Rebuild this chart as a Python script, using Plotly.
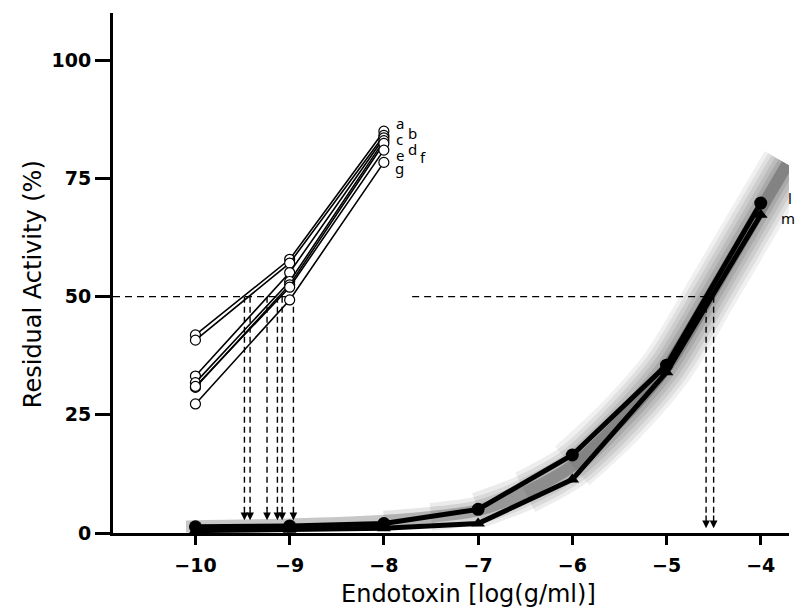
import plotly.graph_objects as go

# ---------------- data ----------------
x_short = [-10, -9, -8]
curves_short = {
    "a": [41.9, 57.9, 85.0],
    "b": [40.8, 57.1, 84.1],
    "c": [33.2, 55.1, 83.6],
    "d": [31.8, 53.2, 83.0],
    "e": [30.8, 52.5, 82.4],
    "f": [31.0, 52.0, 81.0],
    "g": [27.3, 49.3, 78.4],
}
x_long = [-10, -9, -8, -7, -6, -5, -4]
curve_l = [1.3, 1.5, 2.0, 5.0, 16.5, 35.5, 69.8]
curve_m = [0.5, 0.7, 1.0, 2.0, 11.3, 34.0, 67.3]

# centre line of the shaded (halftone) band around curves l and m
band_x = [-10.1, -9, -8, -7.5, -7, -6.5, -6, -5.5, -5, -4.5, -4, -3.72]
band_y = [1.4, 1.8, 2.6, 3.4, 4.8, 8.6, 14.2, 23.5, 35.0, 51.5, 68.5, 78.0]

# 50 % crossings marked with dashed arrows
ic50_left = [-9.48, -9.42, -9.24, -9.13, -9.08, -8.96]
ic50_right = [-4.58, -4.50]
half_level = 50

x_ticks = [-10, -9, -8, -7, -6, -5, -4]
y_ticks = [0, 25, 50, 75, 100]

X_MIN, X_MAX = -10.875, -3.70
Y_MIN, Y_MAX = 0, 110

fig = go.Figure()

# ---------------- shaded band (layered translucent strokes) ----------------
band_layers = [  # (first point index, width px, alpha)
    (0, 12, 0.22),
    (2, 20, 0.10),
    (3, 28, 0.08),
    (4, 36, 0.08),
    (5, 44, 0.07),
    (6, 52, 0.06),
]
for start, w, a in band_layers:
    fig.add_trace(go.Scatter(
        x=band_x[start:], y=band_y[start:], mode="lines",
        line=dict(color=f"rgba(0,0,0,{a})", width=w, shape="spline", smoothing=0.8),
        hoverinfo="skip", showlegend=False))

# ---------------- dashed 50 % guide lines ----------------
dash_style = dict(color="black", width=1.4, dash="7px,5px")
fig.add_trace(go.Scatter(x=[X_MIN, max(ic50_left)], y=[half_level, half_level],
                         mode="lines", line=dash_style, showlegend=False, hoverinfo="skip"))
fig.add_trace(go.Scatter(x=[-7.7, max(ic50_right)], y=[half_level, half_level],
                         mode="lines", line=dash_style, showlegend=False, hoverinfo="skip"))

arrow_end_left = 2.7
arrow_end_right = 1.0
for xs, yend in ((ic50_left, arrow_end_left), (ic50_right, arrow_end_right)):
    for xv in xs:
        fig.add_trace(go.Scatter(x=[xv, xv], y=[half_level, yend + 2.5], mode="lines",
                                 line=dict(color="black", width=1.4, dash="6px,4px"),
                                 showlegend=False, hoverinfo="skip"))
        fig.add_annotation(x=xv, y=yend, ax=xv, ay=yend + 3.0, xref="x", yref="y",
                           axref="x", ayref="y", text="", showarrow=True,
                           arrowhead=2, arrowsize=1.1, arrowwidth=1.4, arrowcolor="black")

# ---------------- curves a-g ----------------
for name, ys in curves_short.items():
    fig.add_trace(go.Scatter(
        x=x_short, y=ys, mode="lines+markers", name=name,
        line=dict(color="black", width=1.6),
        marker=dict(symbol="circle", size=10, color="white",
                    line=dict(color="black", width=1.2)),
        cliponaxis=False, showlegend=False))

# ---------------- curves l and m ----------------
fig.add_trace(go.Scatter(
    x=x_long, y=curve_m, mode="lines+markers", name="m",
    line=dict(color="black", width=5),
    marker=dict(symbol="triangle-up", size=12, color="black"),
    cliponaxis=False, showlegend=False))
fig.add_trace(go.Scatter(
    x=x_long, y=curve_l, mode="lines+markers", name="l",
    line=dict(color="black", width=5),
    marker=dict(symbol="circle", size=13, color="black"),
    cliponaxis=False, showlegend=False))

# ---------------- curve labels ----------------
label_font = dict(family="Noto Sans, DejaVu Sans, sans-serif", size=15, color="black")
label_pos = {  # (x, y) of each letter, data units
    "a": (-7.83, 86.8), "b": (-7.70, 84.7), "c": (-7.83, 83.3), "d": (-7.70, 81.3),
    "e": (-7.83, 80.0), "f": (-7.59, 79.6), "g": (-7.83, 77.2),
}
for t, (lx, ly) in label_pos.items():
    fig.add_annotation(x=lx, y=ly, xref="x", yref="y", text=t, showarrow=False,
                       font=label_font, xanchor="center", yanchor="middle",
                       borderpad=0)
# l and m sit just right of the plotting range: x in paper units
for t, (lx, ly) in {"l": (1.001, 70.8), "m": (0.999, 66.6)}.items():
    fig.add_annotation(x=lx, y=ly, xref="paper", yref="y", text=t, showarrow=False,
                       font=label_font, xanchor="center", yanchor="middle",
                       borderpad=0)

# ---------------- axis titles ----------------
title_font = dict(family="DejaVu Sans, sans-serif", size=24, color="black")
fig.add_annotation(x=-7.1, y=-0.117, xref="x", yref="paper",
                   text="Endotoxin [log(g/ml)]", showarrow=False, font=title_font,
                   xanchor="center", yanchor="middle")
fig.add_annotation(x=-0.118, y=0.479, xref="paper", yref="paper",
                   text="Residual Activity (%)", showarrow=False, font=title_font,
                   textangle=-90, xanchor="center", yanchor="middle")

tick_font = dict(family="DejaVu Sans, sans-serif", size=19, color="black", weight="bold")
fig.update_xaxes(range=[X_MIN, X_MAX], tickvals=x_ticks, ticks="outside", ticklen=9,
                 tickwidth=2.5, tickcolor="black", showline=True, linewidth=3,
                 linecolor="black", showgrid=False, zeroline=False,
                 tickfont=tick_font, ticklabelstandoff=4)
fig.update_yaxes(range=[Y_MIN, Y_MAX], tickvals=y_ticks, ticks="outside", ticklen=15,
                 tickwidth=2.5, tickcolor="black", showline=True, linewidth=3,
                 linecolor="black", showgrid=False, zeroline=False,
                 tickfont=tick_font)

# the page adds an 8 px body margin, so the figure is sized to fit inside it
fig.update_layout(width=795, height=603, margin=dict(l=105, r=14, t=5, b=78),
                  plot_bgcolor="white", paper_bgcolor="white", showlegend=False)

fig.write_html("out.html")
